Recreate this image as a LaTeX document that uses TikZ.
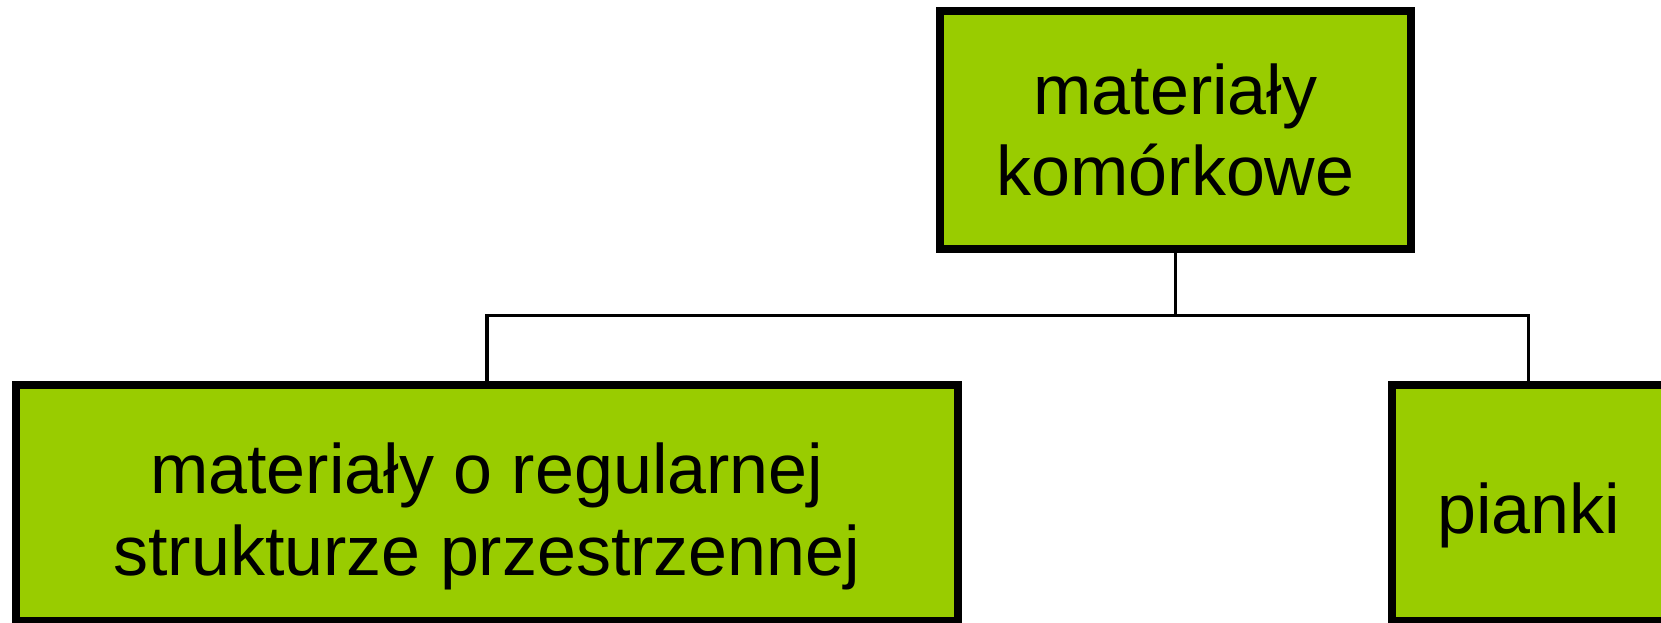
\documentclass[tikz,border=0pt]{standalone}
\usepackage{fontspec}
\setmainfont{Liberation Sans}
\definecolor{boxgreen}{RGB}{153,204,0}
\begin{document}
\begin{tikzpicture}[x=1pt,y=-1pt,
  box/.style={draw=black, line width=8pt, fill=boxgreen, rectangle, inner sep=0pt},
  lbl/.style={font=\fontsize{70pt}{81.7pt}\selectfont, align=center, inner sep=0pt},
  conn/.style={draw=black, line width=3.4pt}]
  \useasboundingbox (0,0) rectangle (1661,623);
  \clip (0,0) rectangle (1661,623);

  % boxes
  \node[box, minimum width=471pt, minimum height=238.3pt] (top) at (1175.5,129.9) {};
  \node[lbl] (toplabel) at (top.center) {materiały\\komórkowe};
  \node[box, minimum width=941.7pt, minimum height=236pt] (left) at (486.85,502.7) {};
  \node[lbl] (leftlabel) at ([yshift=-14pt]left.center) {materiały o regularnej\\strukturze przestrzennej};
  \node[box, minimum width=273.2pt, minimum height=236pt] (right) at (1528.6,502.7) {};
  \node[lbl] (rightlabel) at ([yshift=-13pt]right.center) {pianki};

  % tree connectors
  \coordinate (bus) at (1173.5,315.7);
  \draw[conn] (top.south) -- (top.south |- bus);
  \draw[conn] (left.north) -- (left.north |- bus) -- (right.north |- bus) -- (right.north);
\end{tikzpicture}
\end{document}
